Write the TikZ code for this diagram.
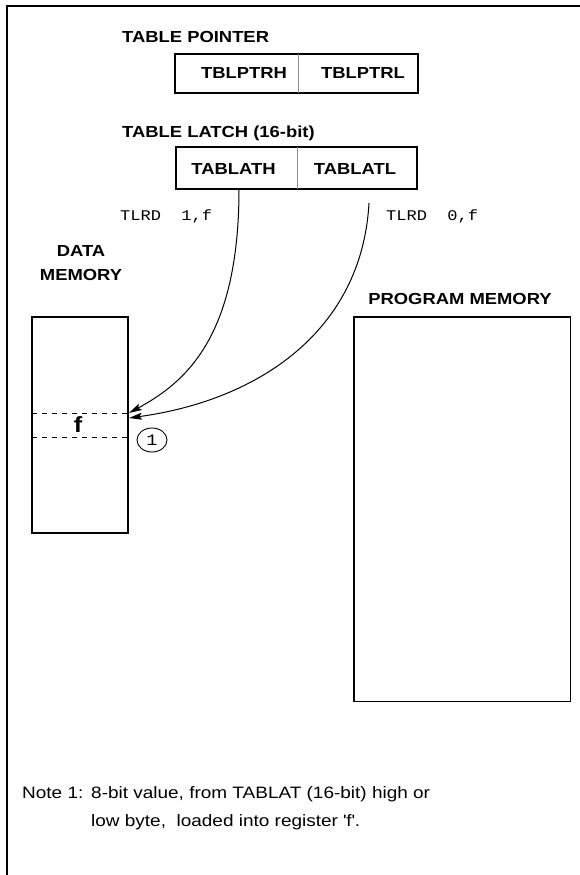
\documentclass[tikz,border=0pt]{standalone}
\usepackage{fontspec}
\setmainfont[FakeStretch=1.15]{Liberation Sans}
\setmonofont[FakeStretch=1.15]{Liberation Mono}
\usetikzlibrary{arrows.meta,shapes.geometric}
\begin{document}
\begin{tikzpicture}[x=1pt,y=-1pt,
  hdr/.style={font=\fontsize{16}{23.5}\selectfont\bfseries, inner sep=0pt},
  reg/.style={font=\fontsize{16}{19}\selectfont\bfseries, inner sep=0pt, anchor=base},
  mono/.style={font=\ttfamily\fontsize{14.8}{17}\selectfont, inner sep=0pt, anchor=base west},
  note/.style={font=\fontsize{16.5}{20}\selectfont, inner sep=0pt, anchor=base west},
  regbox/.style={draw, line width=1.2pt},
  divider/.style={draw=black!45, line width=0.9pt},
  membox/.style={draw, line width=1.2pt},
  flow/.style={line width=1pt, -{Stealth[length=13pt,width=7pt,inset=2.5pt]}},
  sep/.style={line width=0.8pt, dash pattern=on 5pt off 5pt}]
\useasboundingbox (0,0) rectangle (579,875);
% frame
\draw[line width=2.2pt] (7,885) -- (7,6) -- (590,6);

% table pointer
\node[hdr, anchor=base west] (tphdr) at (122,43) {TABLE POINTER};
\draw[regbox] (175,54) rectangle (418,93);
\draw[divider] (298,54) -- (298,93);
\node[reg] (tblptrh) at (244,78) {TBLPTRH};
\node[reg] (tblptrl) at (363,78) {TBLPTRL};

% table latch
\node[hdr, anchor=base west] (tlhdr) at (122,137) {TABLE LATCH (16-bit)};
\draw[regbox] (176,147) rectangle (417,189);
\draw[divider] (297,147) -- (297,189);
\node[reg] (tablath) at (233.5,174) {TABLATH};
\node[reg] (tablatl) at (355,174) {TABLATL};

% instructions
\node[mono] (tlrd1) at (120,220) {TLRD~~1,f};
\node[mono] (tlrd0) at (386,220) {TLRD~~0,f};

% data memory
\node[hdr, align=center, anchor=base] (dmhdr) at (81,280) {DATA\\MEMORY};
\draw[membox] (32,317) rectangle (128,533);
\draw[sep] (32,413.5) -- (128,413.5);
\draw[sep] (32,437.5) -- (128,437.5);
\node[font=\fontsize{22}{26}\selectfont\bfseries, inner sep=0pt, anchor=base] (freg) at (78,432) {f};
\node[draw, ellipse, line width=0.9pt, minimum width=30pt, minimum height=24pt, inner sep=0pt,
      font=\ttfamily\fontsize{16}{18}\selectfont] (n1) at (152,440) {1};

% program memory
\node[hdr, anchor=base] (pmhdr) at (460,304) {PROGRAM MEMORY};
\draw[membox] (354,317) rectangle (570.5,701.5);

% connectors
\coordinate (s1) at (239,189);
\coordinate (s2) at (369,203);
\coordinate (t1) at (129,413);
\coordinate (t2) at (129,418);
\draw[flow] (s1) .. controls (239,339) and (184,383) .. (t1);
\draw[flow] (s2) .. controls (362,330) and (260,400) .. (t2);

% note
\node[note] (notelbl) at (22,798) {Note 1:};
\node[note] (note1) at (91,798) {8-bit value, from TABLAT (16-bit) high or};
\node[note] (note2) at (91,826) {low byte,~~loaded into register \textquotesingle f\textquotesingle .};
\end{tikzpicture}
\end{document}
